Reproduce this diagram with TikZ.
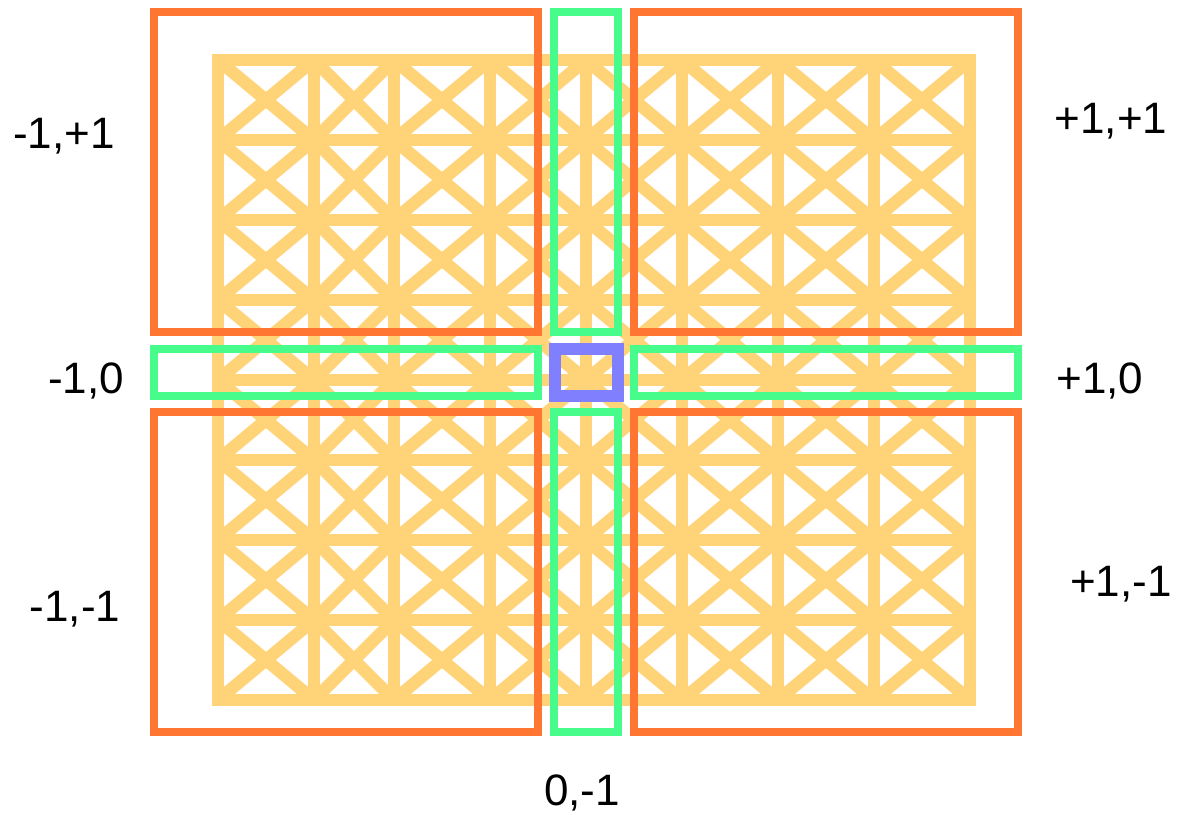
\documentclass[tikz,border=0pt]{standalone}
\usepackage{fontspec}
\setmainfont{Liberation Sans}
\definecolor{gridyel}{HTML}{FFD479}
\definecolor{boxorg}{HTML}{FF7632}
\definecolor{boxgrn}{HTML}{48FC8C}
\definecolor{boxblu}{HTML}{8080FF}
\tikzset{
  gridline/.style={draw=gridyel, line width=12.5pt},
  quadbox/.style={draw=boxorg, line width=8pt},
  stripbox/.style={draw=boxgrn, line width=8pt},
  centerbox/.style={draw=boxblu, line width=12pt},
  lbl/.style={inner sep=0pt, anchor=base, font=\fontsize{44}{52}\selectfont}
}
\begin{document}
\begin{tikzpicture}[x=1pt,y=-1pt]
\useasboundingbox (0,0) rectangle (1180,814);
% yellow lattice
\def\xs{218,314,394,490,586,682,778,874,970}
\foreach \y in {60,140,...,700} \draw[gridline] (218,\y) -- (970,\y);
\foreach \x in \xs \draw[gridline] (\x,60) -- (\x,700);
\foreach \xa/\xb in {218/314,314/394,394/490,490/586,586/682,682/778,778/874,874/970}{
  \foreach \ya in {60,140,...,620}{
    \draw[gridline] (\xa,\ya) -- (\xb,\ya+80);
    \draw[gridline] (\xb,\ya) -- (\xa,\ya+80);
  }
}
\draw[gridline, line join=miter] (218,60) rectangle (970,700);
% orange quadrant boxes
\draw[quadbox] (154,12) rectangle (538,332);
\draw[quadbox] (634,12) rectangle (1018,332);
\draw[quadbox] (154,412) rectangle (538,732);
\draw[quadbox] (634,412) rectangle (1018,732);
% green strips
\draw[stripbox] (554,12) rectangle (618,332);
\draw[stripbox] (554,412) rectangle (618,732);
\draw[stripbox] (154,348.5) rectangle (538,396);
\draw[stripbox] (634,348.5) rectangle (1018,396);
% blue center
\draw[centerbox] (554.5,348.5) rectangle (617.5,395.5);
% labels
\node[lbl] (mp) at (64,148.3) {-1,+1};
\node[lbl] (pp) at (1111,133.3) {+1,+1};
\node[lbl] (mz) at (86,393.3) {-1,0};
\node[lbl] (pz) at (1100,393.3) {+1,0};
\node[lbl] (mm) at (75,621.7) {-1,-1};
\node[lbl] (pm) at (1121,596.7) {+1,-1};
\node[lbl] (zm) at (582,805) {0,-1};
\end{tikzpicture}
\end{document}
